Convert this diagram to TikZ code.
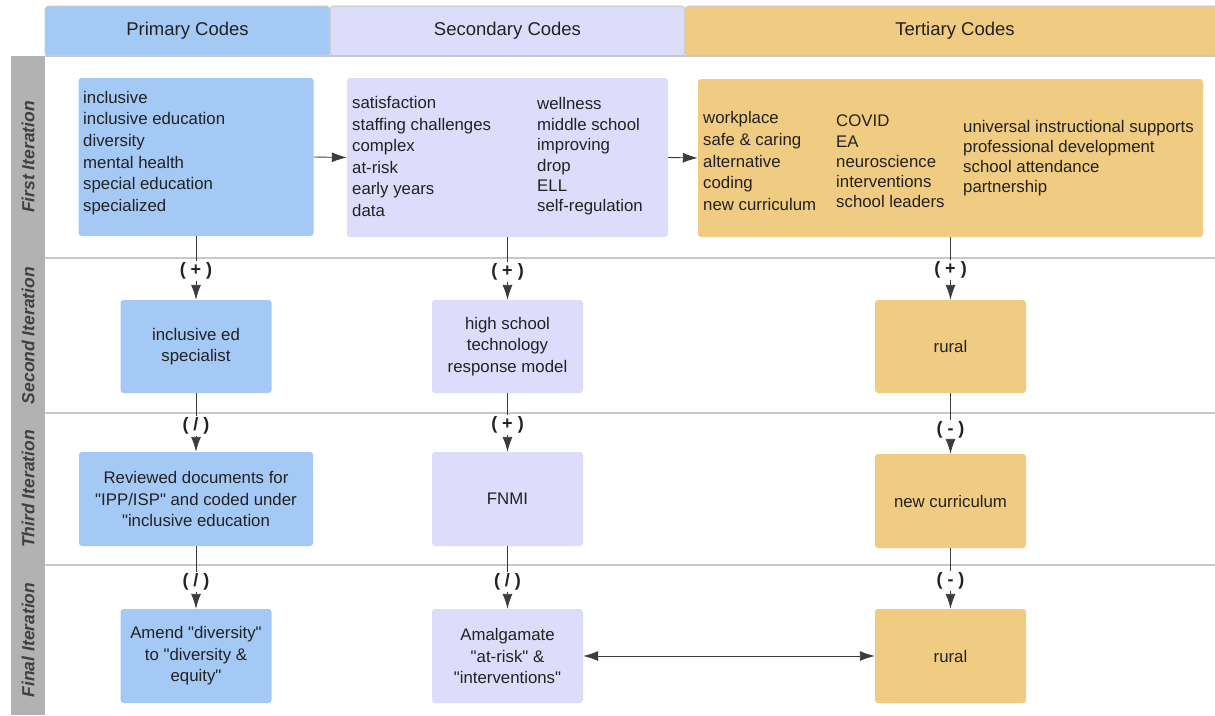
\documentclass[tikz,border=0pt]{standalone}
\usepackage{fontspec}
\setmainfont{Liberation Sans}
\usetikzlibrary{arrows.meta}
\definecolor{pri}{RGB}{164,201,244}
\definecolor{sec}{RGB}{221,221,251}
\definecolor{ter}{RGB}{240,203,130}
\definecolor{side}{RGB}{178,178,178}
\definecolor{sepc}{RGB}{200,200,200}
\definecolor{txt}{RGB}{34,34,34}
\definecolor{lab}{RGB}{64,64,64}
\definecolor{linec}{RGB}{60,60,60}
\newcommand{\qq}{\textquotedbl}
\begin{document}
\begin{tikzpicture}[x=1pt,y=-1pt,
  bodyfont/.style={font=\fontsize{16.8}{21.6}\selectfont},
  box/.style={rounded corners=3pt, inner sep=0pt, text=txt, align=center, bodyfont},
  pbox/.style={box, fill=pri},
  sbox/.style={box, fill=sec},
  tbox/.style={box, fill=ter},
  list/.style={inner sep=0pt, text=txt, align=left, anchor=west, bodyfont},
  head/.style={rounded corners=4pt, draw=sepc, line width=1pt, inner sep=0pt, text=txt,
    minimum height=50pt, font=\fontsize{18.5}{22}\selectfont},
  rowlab/.style={rotate=90, text=lab, inner sep=0pt, font=\fontsize{17.5}{20}\selectfont\bfseries\itshape},
  sepline/.style={draw=sepc, line width=2pt},
  lbl/.style={fill=white, inner sep=1pt, text=txt, font=\fontsize{18}{20}\selectfont\bfseries},
  conn/.style={draw=linec, line width=0.9pt},
  tip/.tip={Latex[length=15pt,width=10pt]},
  arr/.style={conn, -tip},
  darr/.style={conn, tip-tip}
]
\useasboundingbox (0,0) rectangle (1215,715);
\fill[white] (0,0) rectangle (1215,715);

% headers
\node[head, fill=pri, minimum width=285pt] (hp) at (187.5,31) {Primary Codes};
\node[head, fill=sec, minimum width=355pt] (hs) at (507.5,31) {Secondary Codes};
\node[head, fill=ter, minimum width=540pt] (ht) at (955,31) {Tertiary Codes};

% frame and row separators
\draw[sepline] (45,56) -- (1215,56);
\draw[sepline] (45,258) -- (1215,258);
\draw[sepline] (45,413) -- (1215,413);
\draw[sepline] (45,565) -- (1215,565);
\fill[side] (11,56) rectangle (45,715);

% row labels
\node[rowlab] (r1) at (28,157) {First Iteration};
\node[rowlab] (r2) at (28,335.5) {Second Iteration};
\node[rowlab] (r3) at (28,489) {Third Iteration};
\node[rowlab] (r4) at (28,640) {Final Iteration};

% first iteration
\node[pbox, minimum width=235pt, minimum height=158pt] (p1) at (196,157) {};
\node[list] (p1t) at (83,153) {inclusive\\inclusive education\\diversity\\mental health\\special education\\specialized};

\node[sbox, minimum width=321pt, minimum height=159pt] (s1) at (507.5,157.5) {};
\node[list] (s1a) at (352,156.5) {satisfaction\\staffing challenges\\complex\\at-risk\\early years\\data};
\node[list, font=\fontsize{16.8}{20.4}\selectfont] (s1b) at (537,156.5) {wellness\\middle school\\improving\\drop\\ELL\\self-regulation};

\node[tbox, minimum width=505pt, minimum height=158pt] (t1) at (950.5,158) {};
\node[list] (t1a) at (703,161) {workplace\\safe \& caring\\alternative\\coding\\new curriculum};
\node[list, font=\fontsize{16.8}{20.25}\selectfont] (t1b) at (836,161.5) {COVID\\EA\\neuroscience\\interventions\\school leaders};
\node[list, font=\fontsize{16.8}{20}\selectfont] (t1c) at (963,158.5) {universal instructional supports\\professional development\\school attendance\\partnership};

% second iteration
\node[pbox, minimum width=151pt, minimum height=93pt] (p2) at (196,346.5) {inclusive ed\\specialist};
\node[sbox, minimum width=151pt, minimum height=93pt] (s2) at (507.5,346.5) {high school\\technology\\response model};
\node[tbox, minimum width=151pt, minimum height=93pt] (t2) at (950.5,346.5) {rural};

% third iteration
\node[pbox, minimum width=234pt, minimum height=94pt] (p3) at (196,499) {Reviewed documents for\\\qq IPP/ISP\qq{} and coded under\\\qq inclusive education};
\node[sbox, minimum width=151pt, minimum height=94pt] (s3) at (507.5,499) {FNMI};
\node[tbox, minimum width=151pt, minimum height=94pt] (t3) at (950.5,501) {new curriculum};

% final iteration
\node[pbox, minimum width=151pt, minimum height=94pt] (p4) at (196,656) {Amend \qq diversity\qq\\to \qq diversity \&\\equity\qq};
\node[sbox, minimum width=151pt, minimum height=94pt] (s4) at (507.5,656) {Amalgamate\\\qq at-risk\qq{} \&\\\qq interventions\qq};
\node[tbox, minimum width=151pt, minimum height=94pt] (t4) at (950.5,656) {rural};

% horizontal arrows
\draw[arr] (p1.east) -- (s1.west);
\draw[arr] (s1.east) -- (t1.west);
\draw[darr] (s4.east) -- (t4.west);

% labels
\node[lbl] (lp12) at (196,271) {( + )};
\node[lbl] (ls12) at (507.5,272) {( + )};
\node[lbl] (lt12) at (950.5,270) {( + )};
\node[lbl] (lp23) at (196,426) {( / )};
\node[lbl] (ls23) at (507.5,425) {( + )};
\node[lbl] (lt23) at (950.5,430) {( - )};
\node[lbl] (lp34) at (196,582) {( / )};
\node[lbl] (ls34) at (507.5,582) {( / )};
\node[lbl] (lt34) at (950.5,581) {( - )};

% vertical connectors
\draw[conn] (p1.south) -- (lp12.north); \draw[arr] (lp12.south) -- (p2.north);
\draw[conn] (s1.south) -- (ls12.north); \draw[arr] (ls12.south) -- (s2.north);
\draw[conn] (t1.south) -- (lt12.north); \draw[arr] (lt12.south) -- (t2.north);
\draw[conn] (p2.south) -- (lp23.north); \draw[arr] (lp23.south) -- (p3.north);
\draw[conn] (s2.south) -- (ls23.north); \draw[arr] (ls23.south) -- (s3.north);
\draw[conn] (t2.south) -- (lt23.north); \draw[arr] (lt23.south) -- (t3.north);
\draw[conn] (p3.south) -- (lp34.north); \draw[arr] (lp34.south) -- (p4.north);
\draw[conn] (s3.south) -- (ls34.north); \draw[arr] (ls34.south) -- (s4.north);
\draw[conn] (t3.south) -- (lt34.north); \draw[arr] (lt34.south) -- (t4.north);
\end{tikzpicture}
\end{document}
